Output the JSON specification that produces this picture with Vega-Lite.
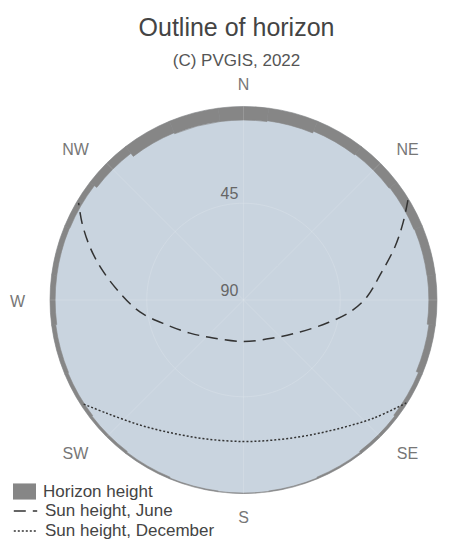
{
  "$schema": "https://vega.github.io/schema/vega-lite/v6.json",
  "width": 487,
  "height": 450,
  "autosize": {"type": "none"},
  "padding": {"left": 0, "top": 75, "right": 0, "bottom": 15},
  "background": "white",
  "config": {"view": {"stroke": null}, "font": "Liberation Sans"},
  "title": {
    "text": "Outline of horizon",
    "subtitle": "(C) PVGIS, 2022",
    "anchor": "middle",
    "frame": "group",
    "dx": -7,
    "offset": 6,
    "font": "Liberation Sans",
    "fontSize": 25,
    "fontWeight": "normal",
    "color": "#444444",
    "subtitleFont": "Liberation Sans",
    "subtitleFontSize": 17,
    "subtitleColor": "#555555",
    "subtitlePadding": 12
  },
  "projection": {
    "type": "azimuthalEquidistant",
    "rotate": [180, -90, 0],
    "reflectX": true,
    "clipAngle": 90,
    "scale": 123.19,
    "translate": [243.5, 225]
  },
  "datasets": {
    "compass": [
      {"az": 0, "t": "N"}, {"az": 45, "t": "NE"}, {"az": 90, "t": "E"}, {"az": 135, "t": "SE"},
      {"az": 180, "t": "S"}, {"az": 225, "t": "SW"}, {"az": 270, "t": "W"}, {"az": 315, "t": "NW"}
    ]
  },
  "layer": [
    {
      "data": {"sphere": true},
      "mark": {"type": "geoshape", "fill": "#c9d4df", "stroke": null},
      "encoding": {}
    },
    {
      "data": {"values": [
        {"az": 0, "h": 6.3}, {"az": 15, "h": 5.9}, {"az": 30, "h": 5.0}, {"az": 45, "h": 4.6},
        {"az": 60, "h": 4.2}, {"az": 75, "h": 3.9}, {"az": 90, "h": 3.8}, {"az": 105, "h": 3.0},
        {"az": 120, "h": 1.9}, {"az": 135, "h": 1.3}, {"az": 150, "h": 0.8}, {"az": 165, "h": 0.4},
        {"az": 180, "h": 0.2}, {"az": 195, "h": 0.4}, {"az": 210, "h": 0.8}, {"az": 225, "h": 1.2},
        {"az": 240, "h": 1.6}, {"az": 255, "h": 1.9}, {"az": 270, "h": 2.4}, {"az": 285, "h": 2.4},
        {"az": 300, "h": 2.6}, {"az": 315, "h": 4.0}, {"az": 330, "h": 5.8}, {"az": 345, "h": 6.3}
      ]},
      "transform": [
        {"aggregate": [{"op": "count", "as": "n"}], "groupby": ["az", "h"]},
        {"stack": "n", "groupby": [], "sort": [{"field": "az", "order": "ascending"}], "as": ["t0", "t1"]}
      ],
      "mark": {"type": "arc", "stroke": "#868686", "strokeWidth": 0.6},
      "encoding": {
        "theta": {"field": "t0", "type": "quantitative", "stack": null,
                  "scale": {"domain": [0, 24], "range": [-0.1309, 6.1523]}},
        "theta2": {"field": "t1"},
        "radius": {"field": "h", "type": "quantitative",
                   "scale": {"type": "linear", "domain": [0, 90], "range": [193.5, 0], "zero": false}},
        "radius2": {"datum": 0},
        "fill": {"datum": "Horizon height", "type": "nominal",
                 "scale": {"range": ["#868686"]},
                 "legend": {"title": null, "orient": "none", "legendX": 13, "legendY": 405,
                            "symbolType": "M-1,-0.7H1V0.7H-1Z", "symbolSize": 529, "symbolStrokeWidth": 0,
                            "labelFont": "Liberation Sans", "labelFontSize": 17, "labelColor": "#444444",
                            "labelOffset": 7, "labelLimit": 0, "padding": 0}}
      }
    },
    {
      "data": {"graticule": {"step": [45, 45], "extent": [[-180, -90], [180, 90]]}},
      "mark": {"type": "geoshape", "filled": false, "stroke": "#ffffff", "strokeOpacity": 0.15, "strokeWidth": 1},
      "encoding": {}
    },
    {
      "data": {"values": [
        {"series": "Sun height, June", "az": 58.7, "e": 0.5},
        {"series": "Sun height, June", "az": 64.2, "e": 7.6},
        {"series": "Sun height, June", "az": 70.7, "e": 15.4},
        {"series": "Sun height, June", "az": 79.6, "e": 25.4},
        {"series": "Sun height, June", "az": 88.6, "e": 32.6},
        {"series": "Sun height, June", "az": 96.4, "e": 40.1},
        {"series": "Sun height, June", "az": 105.4, "e": 49.7},
        {"series": "Sun height, June", "az": 119.5, "e": 59.8},
        {"series": "Sun height, June", "az": 142.2, "e": 67.6},
        {"series": "Sun height, June", "az": 180, "e": 70.7},
        {"series": "Sun height, June", "az": 218.7, "e": 67.4},
        {"series": "Sun height, June", "az": 238.3, "e": 60.7},
        {"series": "Sun height, June", "az": 251.9, "e": 52.6},
        {"series": "Sun height, June", "az": 263.4, "e": 41.5},
        {"series": "Sun height, June", "az": 273.2, "e": 32.5},
        {"series": "Sun height, June", "az": 282.0, "e": 22.8},
        {"series": "Sun height, June", "az": 289.0, "e": 14.5},
        {"series": "Sun height, June", "az": 295.5, "e": 6.8},
        {"series": "Sun height, June", "az": 300.5, "e": 1.0},
        {"series": "Sun height, December", "az": 122.3, "e": 0.4},
        {"series": "Sun height, December", "az": 132.3, "e": 8.3},
        {"series": "Sun height, December", "az": 143.1, "e": 15.4},
        {"series": "Sun height, December", "az": 155.0, "e": 20.4},
        {"series": "Sun height, December", "az": 168.0, "e": 23.4},
        {"series": "Sun height, December", "az": 180, "e": 24.2},
        {"series": "Sun height, December", "az": 194.8, "e": 23.1},
        {"series": "Sun height, December", "az": 207.8, "e": 19.9},
        {"series": "Sun height, December", "az": 219.6, "e": 14.5},
        {"series": "Sun height, December", "az": 230.4, "e": 7.4},
        {"series": "Sun height, December", "az": 237.2, "e": 1.0}
      ]},
      "mark": {"type": "line", "color": "#333333", "strokeWidth": 1.5, "interpolate": "catmull-rom"},
      "encoding": {
        "longitude": {"field": "az", "type": "quantitative"},
        "latitude": {"field": "e", "type": "quantitative"},
        "order": {"field": "az", "type": "quantitative"},
        "strokeDash": {"field": "series", "type": "nominal",
                       "scale": {"domain": ["Sun height, June", "Sun height, December"], "range": [[12, 7], [2, 2]]},
                       "legend": {"title": null, "orient": "none", "legendX": 15.5, "legendY": 426,
                                  "symbolType": "M-1.3,0H1.3", "symbolSize": 324, "symbolStrokeWidth": 1.4,
                                  "symbolStrokeColor": "#333333", "symbolFillColor": "transparent",
                                  "labelFont": "Liberation Sans", "labelFontSize": 17, "labelColor": "#444444",
                                  "labelOffset": 9.5, "labelLimit": 0, "rowPadding": 2, "padding": 0}}
      }
    },
    {
      "data": {"values": [{"e": 45, "t": "45"}, {"e": 90, "t": "90"}]},
      "mark": {"type": "text", "fontSize": 16, "color": "#666666", "baseline": "middle", "dx": -14, "dy": -9},
      "encoding": {
        "longitude": {"datum": 0},
        "latitude": {"field": "e", "type": "quantitative"},
        "text": {"field": "t"}
      }
    },
    {
      "data": {"name": "compass"},
      "transform": [{"filter": {"field": "t", "oneOf": ["N", "S"]}}],
      "mark": {"type": "text", "fontSize": 16, "color": "#777777", "baseline": "middle", "dy": 1.5},
      "encoding": {
        "longitude": {"field": "az", "type": "quantitative"},
        "latitude": {"datum": -10.47},
        "text": {"field": "t"}
      }
    },
    {
      "data": {"name": "compass"},
      "transform": [{"filter": {"field": "t", "oneOf": ["E", "W"]}}],
      "mark": {"type": "text", "fontSize": 16, "color": "#777777", "baseline": "middle", "dy": 2},
      "encoding": {
        "longitude": {"field": "az", "type": "quantitative"},
        "latitude": {"datum": -15.12},
        "text": {"field": "t"}
      }
    },
    {
      "data": {"name": "compass"},
      "transform": [{"filter": {"field": "t", "oneOf": ["NE", "SE"]}}],
      "mark": {"type": "text", "fontSize": 16, "color": "#777777", "baseline": "middle", "dx": 12, "dy": 2},
      "encoding": {
        "longitude": {"field": "az", "type": "quantitative"},
        "latitude": {"datum": -10.0},
        "text": {"field": "t"}
      }
    },
    {
      "data": {"name": "compass"},
      "transform": [{"filter": {"field": "t", "oneOf": ["NW", "SW"]}}],
      "mark": {"type": "text", "fontSize": 16, "color": "#777777", "baseline": "middle", "dx": -16, "dy": 2},
      "encoding": {
        "longitude": {"field": "az", "type": "quantitative"},
        "latitude": {"datum": -10.0},
        "text": {"field": "t"}
      }
    }
  ]
}
